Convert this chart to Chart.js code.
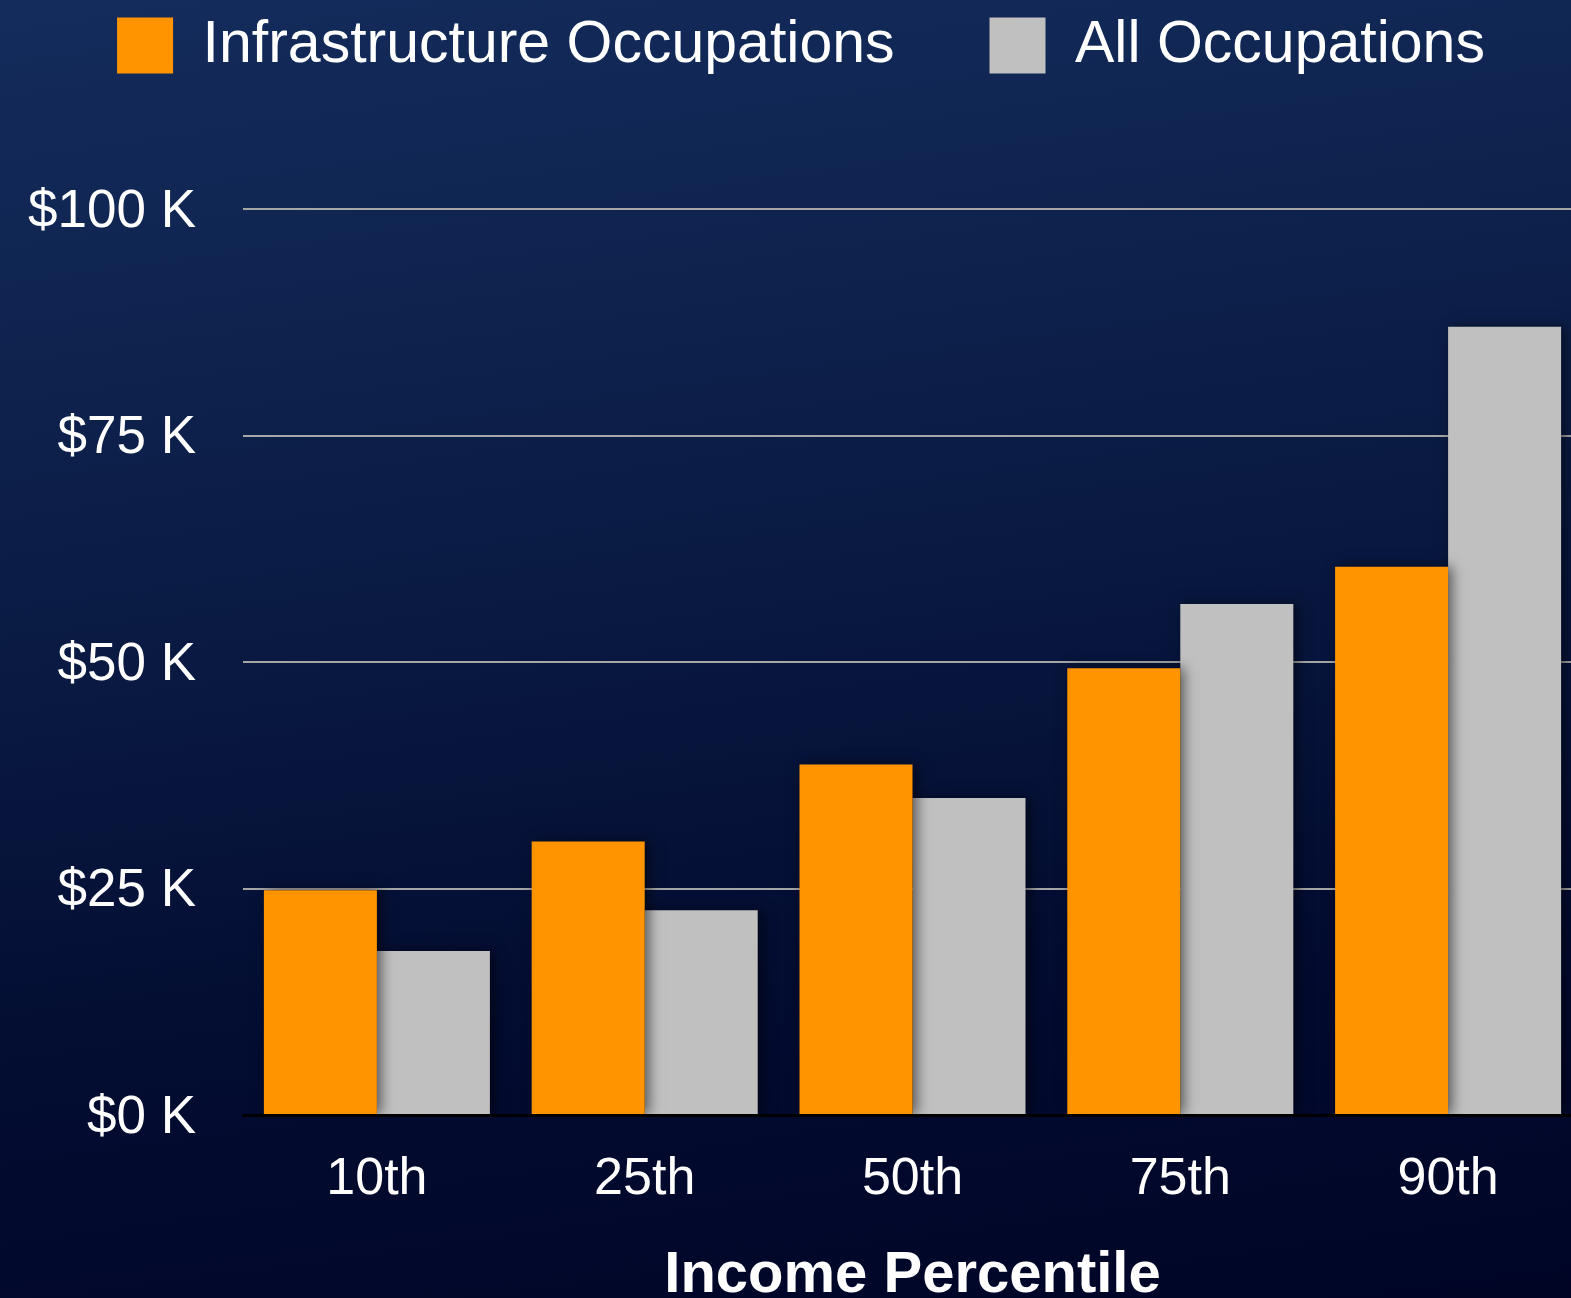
<!DOCTYPE html>
<html>
<head>
<meta charset="utf-8">
<script src="https://cdn.jsdelivr.net/npm/chart.js@4.4.0/dist/chart.umd.min.js"></script>
<style>
    html, body { margin: 0; padding: 0; overflow: hidden; }
    body {
        width: 1571px;
        height: 1298px;
        background: linear-gradient(172deg, #142c5c 0%, #0b1d46 38%, #030c31 72%, #000526 100%);
    }
    #contenedor { width: 1582px; height: 1298px; position: relative; }
</style>
</head>
<body>
<div id="contenedor"><canvas id="graficoIngresos"></canvas></div>
<script>
const percentiles = ['10th', '25th', '50th', '75th', '90th'];
const infraestructura = [24.8, 30.2, 38.7, 49.3, 60.5];
const todas = [18.1, 22.6, 35.0, 56.4, 87.0];
const marcasY = [0, 25, 50, 75, 100];

Chart.defaults.font.family = "'Liberation Sans', Arial, sans-serif";
Chart.defaults.color = '#ffffff';

// sombra suave detras de las barras
const sombra = {
    id: 'sombra',
    beforeDatasetsDraw(chart) {
        const c = chart.ctx;
        c.save();
        c.shadowColor = 'rgba(0, 0, 0, 0.55)';
        c.shadowBlur = 12;
        c.shadowOffsetX = 4;
    },
    afterDatasetsDraw(chart) {
        chart.ctx.restore();
    }
};

// la leyenda ocupa todo el espacio hasta la linea de $100 K
const altoLeyenda = {
    id: 'altoLeyenda',
    beforeInit(chart) {
        const fit = chart.legend.fit;
        chart.legend.fit = function() {
            fit.bind(chart.legend)();
            this.height = 288;
        };
    }
};

const ctx = document.getElementById('graficoIngresos').getContext('2d');

new Chart(ctx, {
    type: 'bar',
    data: {
        labels: percentiles,
        datasets: [{
            label: 'Infrastructure Occupations',
            data: infraestructura,
            backgroundColor: '#ff9400',
            borderWidth: 0
        }, {
            label: 'All Occupations',
            data: todas,
            backgroundColor: '#c0c0c0',
            borderWidth: 0
        }]
    },
    options: {
        responsive: true,
        maintainAspectRatio: false,
        animation: false,
        layout: { padding: { top: -79, right: 0, left: 20, bottom: 0 } },
        datasets: {
            bar: { categoryPercentage: 0.844, barPercentage: 1.0 }
        },
        plugins: {
            legend: {
                position: 'top',
                labels: {
                    color: '#ffffff',
                    boxWidth: 56,
                    boxHeight: 56,
                    padding: 95,
                    font: { size: 59 }
                }
            },
            tooltip: { enabled: false }
        },
        scales: {
            x: {
                grid: { display: false },
                border: { display: true, color: '#000000', width: 3 },
                ticks: {
                    color: '#ffffff',
                    font: { size: 52, lineHeight: 1.2 },
                    padding: 25,
                    maxRotation: 0
                },
                title: {
                    display: true,
                    text: 'Income Percentile',
                    color: '#ffffff',
                    font: { size: 58, weight: 'bold', lineHeight: 1 },
                    padding: { top: 0, bottom: -7 }
                },
                afterFit: s => { s.height = 183; }
            },
            y: {
                min: 0,
                max: 100,
                afterBuildTicks: s => { s.ticks = marcasY.map(v => ({ value: v })); },
                grid: {
                    color: c => c.tick && c.tick.value === 0 ? 'rgba(0,0,0,0)' : '#a6a6a6',
                    lineWidth: 2,
                    drawTicks: false
                },
                border: { display: false },
                ticks: {
                    color: '#ffffff',
                    font: { size: 53 },
                    padding: 47,
                    labelOffset: 3,
                    callback: v => '$' + v + ' K'
                },
                afterFit: s => { s.width = 223; }
            }
        }
    },
    plugins: [sombra, altoLeyenda]
});
</script>
</body>
</html>
